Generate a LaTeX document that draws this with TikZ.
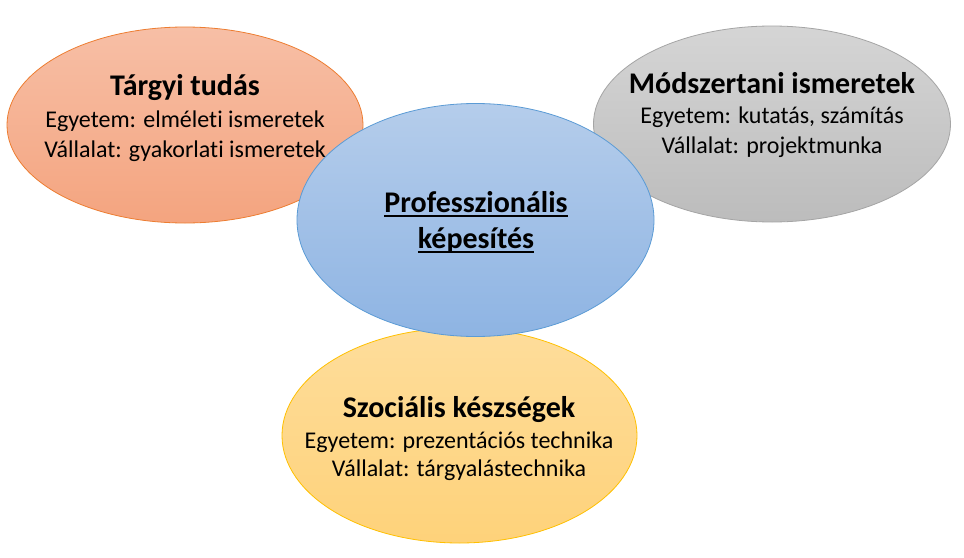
\documentclass[tikz,border=0pt]{standalone}
\usepackage{fontspec}
\setmainfont{Carlito}[Ligatures=CommonOff]
\usetikzlibrary{shapes.geometric}
\definecolor{orTop}{HTML}{F7BFA6}
\definecolor{orBot}{HTML}{F4A47F}
\definecolor{orLine}{HTML}{ED7D31}
\definecolor{blTop}{HTML}{B5CDEB}
\definecolor{blBot}{HTML}{8EB4E3}
\definecolor{blLine}{HTML}{5B9BD5}
\definecolor{grTop}{HTML}{D5D5D5}
\definecolor{grBot}{HTML}{BCBCBC}
\definecolor{grLine}{HTML}{A5A5A5}
\definecolor{yeTop}{HTML}{FEDD9B}
\definecolor{yeBot}{HTML}{FED27A}
\definecolor{yeLine}{HTML}{FFC000}
\newcommand\myul[1]{\setbox0\hbox{#1}\rlap{\rule[-5pt]{\wd0}{1.8pt}}\box0}
\tikzset{
  blob/.style={ellipse, inner sep=0pt, line width=0.8pt},
  title/.style={anchor=base, inner sep=0pt, font=\fontsize{30}{36}\selectfont\bfseries},
  body/.style={anchor=base, inner sep=0pt, font=\fontsize{24}{29}\selectfont},
}
\begin{document}
\begin{tikzpicture}[x=1pt,y=-1pt]
\useasboundingbox[fill=white] (0,0) rectangle (964,557);
% ellipses
\node[blob, draw=orLine, top color=orTop, bottom color=orBot, minimum width=356pt, minimum height=196pt] (targyi) at (185,125) {};
\node[blob, draw=grLine, top color=grTop, bottom color=grBot, minimum width=357pt, minimum height=196pt] (modszer) at (772,124) {};
\node[blob, draw=yeLine, top color=yeTop, bottom color=yeBot, minimum width=355pt, minimum height=215pt] (szoc) at (459.5,435.5) {};
\node[blob, draw=blLine, top color=blTop, bottom color=blBot, minimum width=357pt, minimum height=233pt] (prof) at (475.5,220) {};
% texts
\node[title] (t1) at (185,95) {Tárgyi tudás};
\node[body] (t1a) at (185,127) {Egyetem: elméleti ismeretek};
\node[body] (t1b) at (185,157) {Vállalat: gyakorlati ismeretek};
\node[title] (t2) at (772,93) {Módszertani ismeretek};
\node[body] (t2a) at (772,123) {Egyetem: kutatás, számítás};
\node[body] (t2b) at (772,153) {Vállalat: projektmunka};
\node[title] (t3) at (459,417) {Szociális készségek};
\node[body] (t3a) at (459,448) {Egyetem: prezentációs technika};
\node[body] (t3b) at (459,476) {Vállalat: tárgyalástechnika};
\node[title] (t4) at (476,212) {\myul{Professzionális}};
\node[title] (t4b) at (476,248) {\myul{képesítés}};
\end{tikzpicture}
\end{document}
